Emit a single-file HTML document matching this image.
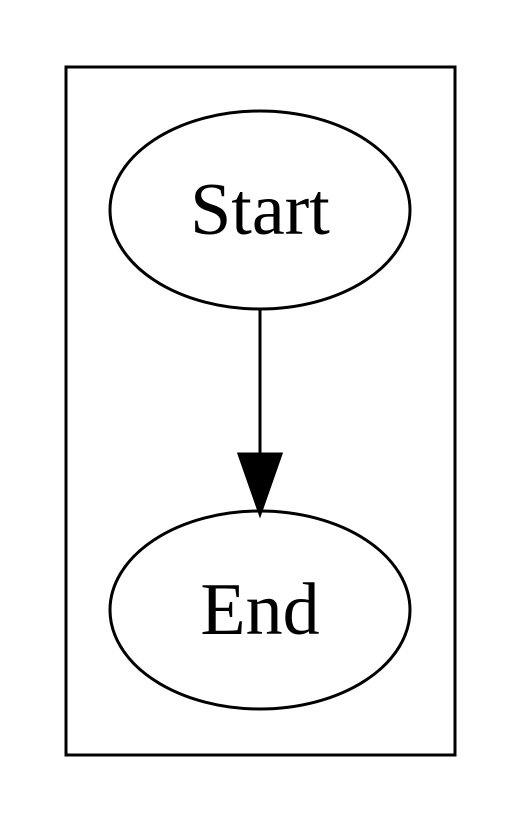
<!DOCTYPE html>
<html><head><meta charset="utf-8"><style>html,body{margin:0;padding:0;background:#fff;}svg{display:block;}</style></head>
<body>
<svg width="522" height="822" viewBox="0 0 522 822" xmlns="http://www.w3.org/2000/svg">
<rect x="66" y="67" width="389" height="688" fill="none" stroke="#000" stroke-width="3"/>
<ellipse cx="260" cy="210" rx="150" ry="99" fill="none" stroke="#000" stroke-width="3"/>
<text x="260" y="234" font-family="Liberation Serif, serif" font-size="74" text-anchor="middle">Start</text>
<line x1="260" y1="310" x2="260" y2="455" stroke="#000" stroke-width="3"/>
<polygon points="239,454 281,454 260,514" fill="#000" stroke="#000" stroke-width="3"/>
<ellipse cx="260" cy="610" rx="150" ry="99" fill="none" stroke="#000" stroke-width="3"/>
<text x="260" y="634" font-family="Liberation Serif, serif" font-size="74" text-anchor="middle">End</text>
</svg>
</body></html>
